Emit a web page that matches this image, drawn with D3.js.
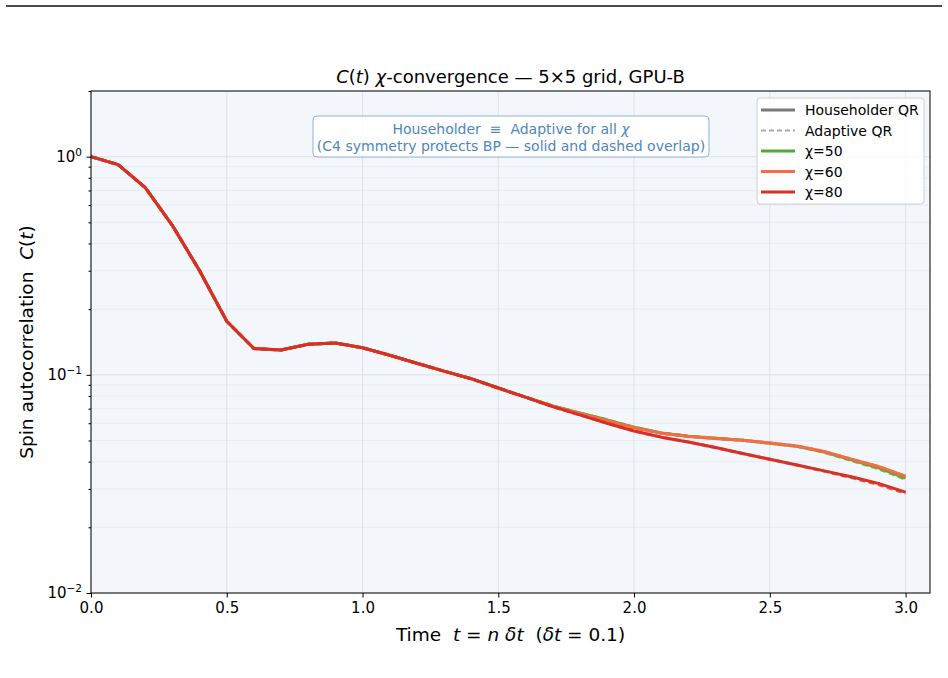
<!DOCTYPE html>
<html>
<head>
<meta charset="utf-8">
<script src="https://cdn.jsdelivr.net/npm/d3@7"></script>
<style>
  body { margin: 0; background: #fff; }
  svg { display: block; font-family: "DejaVu Sans", sans-serif; }
  text { white-space: pre; }
</style>
</head>
<body>
<div id="container"></div>
<script>
// time steps t = n*dt
const times = d3.range(0, 31).map(n => +(n * 0.1).toFixed(1));

// chi = 50 / 60 / 80, Householder (solid) and Adaptive (dashed)
const chi50House = [1.0, 0.919, 0.721, 0.483, 0.300, 0.176, 0.132, 0.130, 0.138, 0.140, 0.133, 0.123, 0.113, 0.104, 0.096, 0.087, 0.079, 0.072, 0.0668, 0.0622, 0.0575, 0.0542, 0.0523, 0.0512, 0.0501, 0.0486, 0.0470, 0.0443, 0.0408, 0.0375, 0.0336];
const chi50Adapt = [1.0, 0.919, 0.721, 0.483, 0.300, 0.176, 0.132, 0.130, 0.138, 0.140, 0.133, 0.123, 0.113, 0.104, 0.096, 0.087, 0.079, 0.072, 0.0668, 0.0622, 0.0575, 0.0542, 0.0523, 0.0512, 0.0501, 0.0486, 0.0470, 0.0442, 0.0405, 0.0371, 0.0332];
const chi60House = [1.0, 0.919, 0.721, 0.483, 0.300, 0.176, 0.132, 0.130, 0.138, 0.140, 0.133, 0.123, 0.113, 0.104, 0.096, 0.087, 0.079, 0.072, 0.0665, 0.0618, 0.0572, 0.0540, 0.0522, 0.0511, 0.0501, 0.0487, 0.0472, 0.0445, 0.0411, 0.0380, 0.0343];
const chi60Adapt = [1.0, 0.919, 0.721, 0.483, 0.300, 0.176, 0.132, 0.130, 0.138, 0.140, 0.133, 0.123, 0.113, 0.104, 0.096, 0.087, 0.079, 0.072, 0.0665, 0.0618, 0.0572, 0.0540, 0.0522, 0.0511, 0.0501, 0.0487, 0.0472, 0.0445, 0.0411, 0.0380, 0.0342];
const chi80House = [1.0, 0.919, 0.721, 0.483, 0.300, 0.176, 0.132, 0.130, 0.138, 0.140, 0.133, 0.123, 0.113, 0.104, 0.096, 0.087, 0.079, 0.0715, 0.0655, 0.0600, 0.0553, 0.0518, 0.0492, 0.0464, 0.0436, 0.0410, 0.0386, 0.0363, 0.0341, 0.0318, 0.0290];
const chi80Adapt = [1.0, 0.919, 0.721, 0.483, 0.300, 0.176, 0.132, 0.130, 0.138, 0.140, 0.133, 0.123, 0.113, 0.104, 0.096, 0.087, 0.079, 0.0715, 0.0655, 0.0600, 0.0553, 0.0518, 0.0492, 0.0464, 0.0436, 0.0410, 0.0386, 0.0362, 0.0338, 0.0314, 0.0286];

const chiLabels = ['χ=50', 'χ=60', 'χ=80'];
const chiColors = ['#55aa35', '#f46d43', '#d73027'];
const xTicks = [0, 0.5, 1.0, 1.5, 2.0, 2.5, 3.0];

const series = [
  { values: chi50House, color: chiColors[0], dashed: false },
  { values: chi50Adapt, color: chiColors[0], dashed: true },
  { values: chi60House, color: chiColors[1], dashed: false },
  { values: chi60Adapt, color: chiColors[1], dashed: true },
  { values: chi80House, color: chiColors[2], dashed: false },
  { values: chi80Adapt, color: chiColors[2], dashed: true }
];

const width = 948, height = 678;
const margin = { left: 91, right: 18, top: 91, bottom: 85 };

const svg = d3.select('#container').append('svg')
  .attr('width', width)
  .attr('height', height);

// page rule at top
svg.append('line')
  .attr('x1', 6).attr('x2', 942).attr('y1', 6).attr('y2', 6)
  .attr('stroke', '#111').attr('stroke-width', 1.3);

const x = d3.scaleLinear().domain([0, 3.09]).range([margin.left, width - margin.right]);
const y = d3.scaleLog().domain([0.01, 2]).range([height - margin.bottom, margin.top]);

// background
svg.append('rect')
  .attr('x', x.range()[0]).attr('y', y.range()[1])
  .attr('width', x.range()[1] - x.range()[0])
  .attr('height', y.range()[0] - y.range()[1])
  .attr('fill', '#f3f6fa');

// minor / major y grid
const minorY = [];
[0.01, 0.1, 1].forEach(d => { for (let k = 2; k <= 9; k++) if (d * k <= 2) minorY.push(d * k); });
svg.append('g').selectAll('line').data(minorY).enter().append('line')
  .attr('x1', x.range()[0]).attr('x2', x.range()[1])
  .attr('y1', d => y(d)).attr('y2', d => y(d))
  .attr('stroke', '#e6e9ed').attr('stroke-width', 0.8);
svg.append('g').selectAll('line').data([0.01, 0.1, 1]).enter().append('line')
  .attr('x1', x.range()[0]).attr('x2', x.range()[1])
  .attr('y1', d => y(d)).attr('y2', d => y(d))
  .attr('stroke', '#dcdfe3').attr('stroke-width', 0.9);
svg.append('g').selectAll('line').data(xTicks).enter().append('line')
  .attr('x1', d => x(d)).attr('x2', d => x(d))
  .attr('y1', y.range()[0]).attr('y2', y.range()[1])
  .attr('stroke', '#dcdfe3').attr('stroke-width', 0.9);

// lines
const line = d3.line().x((d, i) => x(times[i])).y(d => y(d));
const plot = svg.append('g');
series.forEach(s => {
  plot.append('path')
    .datum(s.values)
    .attr('d', line)
    .attr('fill', 'none')
    .attr('stroke', s.color)
    .attr('stroke-width', 3)
    .attr('stroke-opacity', s.dashed ? 0.75 : 1)
    .attr('stroke-dasharray', s.dashed ? '6,3.5' : null)
    .attr('stroke-linejoin', 'round');
});

// spines
svg.append('rect')
  .attr('x', x.range()[0]).attr('y', y.range()[1])
  .attr('width', x.range()[1] - x.range()[0])
  .attr('height', y.range()[0] - y.range()[1])
  .attr('fill', 'none').attr('stroke', '#000').attr('stroke-width', 1);

// x axis
const xAxis = svg.append('g')
  .attr('transform', `translate(0,${y.range()[0]})`)
  .call(d3.axisBottom(x).tickValues(xTicks).tickFormat(d3.format('.1f')).tickSize(4.5).tickPadding(5));
xAxis.select('.domain').remove();
xAxis.selectAll('text').attr('font-size', 15).attr('fill', '#000').attr('font-family', 'DejaVu Sans');

// y axis
const yAxis = svg.append('g')
  .attr('transform', `translate(${x.range()[0]},0)`)
  .call(d3.axisLeft(y).tickValues([0.01, 0.1, 1]).tickFormat('').tickSize(4.5));
yAxis.select('.domain').remove();
svg.append('g')
  .attr('transform', `translate(${x.range()[0]},0)`)
  .call(d3.axisLeft(y).tickValues(minorY).tickFormat('').tickSize(2.5))
  .select('.domain').remove();

const yLabels = [{ v: 1, e: '0' }, { v: 0.1, e: '−1' }, { v: 0.01, e: '−2' }];
yLabels.forEach(l => {
  const t = svg.append('text')
    .attr('x', x.range()[0] - 9).attr('y', y(l.v) + 5)
    .attr('text-anchor', 'end').attr('font-size', 15);
  t.append('tspan').text('10');
  t.append('tspan').attr('dy', -6).attr('font-size', 10.5).text(l.e);
});

// title
const title = svg.append('text')
  .attr('x', (x.range()[0] + x.range()[1]) / 2).attr('y', 83)
  .attr('text-anchor', 'middle').attr('font-size', 18);
title.append('tspan').attr('font-style', 'italic').text('C');
title.append('tspan').text('(');
title.append('tspan').attr('font-style', 'italic').text('t');
title.append('tspan').text(') ');
title.append('tspan').attr('font-style', 'italic').text('χ');
title.append('tspan').text('-convergence — 5×5 grid, GPU-B');

// x label
const xl = svg.append('text')
  .attr('x', (x.range()[0] + x.range()[1]) / 2).attr('y', 641)
  .attr('text-anchor', 'middle').attr('font-size', 18.5);
xl.append('tspan').text('Time  ');
xl.append('tspan').attr('font-style', 'italic').text('t');
xl.append('tspan').text(' = ');
xl.append('tspan').attr('font-style', 'italic').text('n δt');
xl.append('tspan').text('  (');
xl.append('tspan').attr('font-style', 'italic').text('δt');
xl.append('tspan').text(' = 0.1)');

// y label
const yl = svg.append('text')
  .attr('transform', `translate(33,${(y.range()[0] + y.range()[1]) / 2}) rotate(-90)`)
  .attr('text-anchor', 'middle').attr('font-size', 18.5);
yl.append('tspan').text('Spin autocorrelation  ');
yl.append('tspan').attr('font-style', 'italic').text('C');
yl.append('tspan').text('(');
yl.append('tspan').attr('font-style', 'italic').text('t');
yl.append('tspan').text(')');

// annotation box
const ann = svg.append('g');
ann.append('rect')
  .attr('x', 313).attr('y', 116).attr('width', 396).attr('height', 41)
  .attr('rx', 4).attr('fill', '#ffffff').attr('fill-opacity', 0.85)
  .attr('stroke', '#8fb3d4').attr('stroke-width', 1);
const a1 = ann.append('text').attr('x', 511).attr('y', 134)
  .attr('text-anchor', 'middle').attr('font-size', 14).attr('fill', '#4f86bd');
a1.append('tspan').text('Householder  ≡  Adaptive for all ');
a1.append('tspan').attr('font-style', 'italic').text('χ');
ann.append('text').attr('x', 511).attr('y', 151)
  .attr('text-anchor', 'middle').attr('font-size', 14).attr('fill', '#4f86bd')
  .text('(C4 symmetry protects BP — solid and dashed overlap)');

// legend
const legendItems = [
  { label: 'Householder QR', color: '#7a7a7a', dashed: false },
  { label: 'Adaptive QR', color: '#aaaaaa', dashed: true },
  { label: chiLabels[0], color: chiColors[0], dashed: false },
  { label: chiLabels[1], color: chiColors[1], dashed: false },
  { label: chiLabels[2], color: chiColors[2], dashed: false }
];
const lg = svg.append('g');
lg.append('rect')
  .attr('x', 757).attr('y', 98).attr('width', 167).attr('height', 106)
  .attr('rx', 3).attr('fill', '#fff').attr('fill-opacity', 0.85)
  .attr('stroke', '#d0d0d0');
legendItems.forEach((d, i) => {
  const yy = 110 + i * 20.5;
  lg.append('line')
    .attr('x1', 761).attr('x2', 795).attr('y1', yy).attr('y2', yy)
    .attr('stroke', d.color).attr('stroke-width', d.dashed ? 1.8 : 3)
    .attr('stroke-dasharray', d.dashed ? '5,3' : null);
  lg.append('text')
    .attr('x', 805).attr('y', yy + 5)
    .attr('font-size', 14).text(d.label);
});
</script>
</body>
</html>
